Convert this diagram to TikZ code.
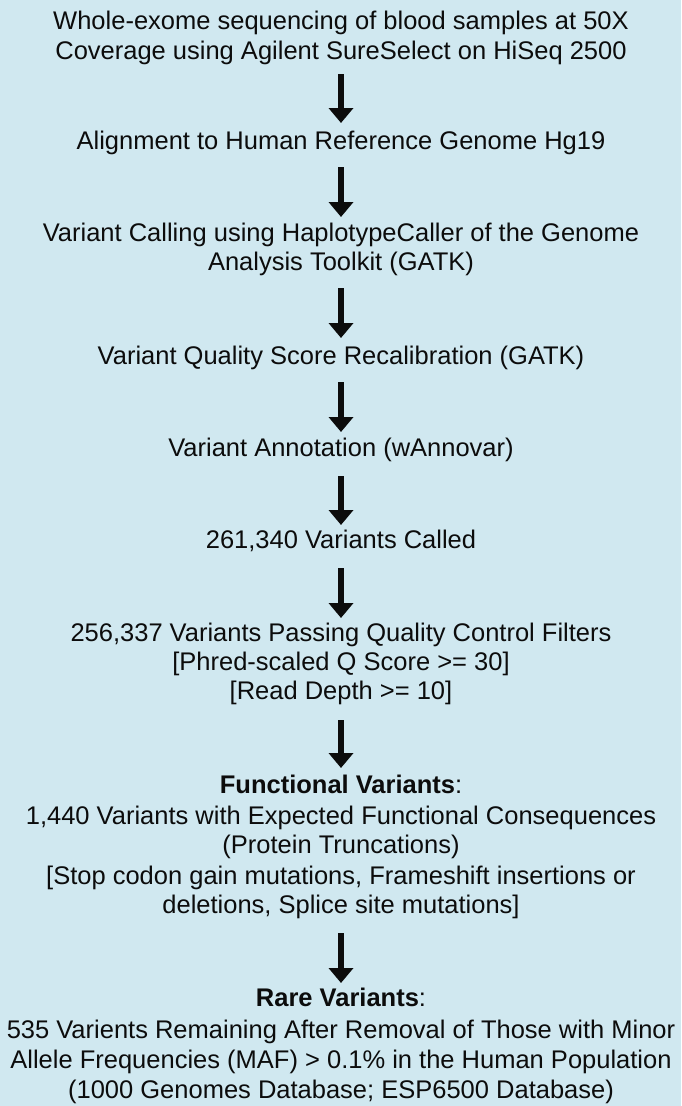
\documentclass[tikz,border=0pt]{standalone}
\usepackage{fontspec}
\setmainfont{Liberation Sans}
\usetikzlibrary{arrows.meta}
\definecolor{bgblue}{RGB}{208,232,240}
\definecolor{inkc}{RGB}{12,12,12}
\begin{document}
\begin{tikzpicture}[x=1pt,y=-1pt,
  txt/.style={anchor=base,inner sep=0pt,font=\fontsize{25.5}{30}\selectfont,text=inkc},
  arr/.style={draw=inkc,line width=5.5pt,-{Triangle[width=24pt,length=15pt]}}]
\useasboundingbox (0,0) rectangle (681,1106);
\fill[bgblue] (0,0) rectangle (681,1106);
% text lines
\node[txt] (t1a) at (341,29) {Whole-exome sequencing of blood samples at 50X};
\node[txt] (t1b) at (341,59) {Coverage using Agilent SureSelect on HiSeq 2500};
\node[txt] (t2) at (341,149) {Alignment to Human Reference Genome Hg19};
\node[txt] (t3a) at (341,241) {Variant Calling using HaplotypeCaller of the Genome};
\node[txt] (t3b) at (341,270) {Analysis Toolkit (GATK)};
\node[txt] (t4) at (341,364) {Variant Quality Score Recalibration (GATK)};
\node[txt] (t5) at (341,456) {Variant Annotation (wAnnovar)};
\node[txt] (t6) at (341,548) {261,340 Variants Called};
\node[txt] (t7a) at (341,641) {256,337 Variants Passing Quality Control Filters};
\node[txt] (t7b) at (341,670) {[Phred-scaled Q Score >= 30]};
\node[txt] (t7c) at (341,699) {[Read Depth >= 10]};
\node[txt] (t8a) at (341,793) {\textbf{Functional Variants}:};
\node[txt] (t8b) at (341,824) {1,440 Variants with Expected Functional Consequences};
\node[txt] (t8c) at (341,853) {(Protein Truncations)};
\node[txt] (t8d) at (341,884) {[Stop codon gain mutations, Frameshift insertions or};
\node[txt] (t8e) at (341,913) {deletions, Splice site mutations]};
\node[txt] (t9a) at (341,1006) {\textbf{Rare Variants}:};
\node[txt] (t9b) at (341,1038) {535 Varients Remaining After Removal of Those with Minor};
\node[txt] (t9c) at (341,1068) {Allele Frequencies (MAF) > 0.1\% in the Human Population};
\node[txt] (t9d) at (341,1098) {(1000 Genomes Database; ESP6500 Database)};
% arrow end points
\coordinate (a1s) at (341,74);  \coordinate (a1e) at (341,123);
\coordinate (a2s) at (341,167); \coordinate (a2e) at (341,217);
\coordinate (a3s) at (341,288); \coordinate (a3e) at (341,338);
\coordinate (a4s) at (341,382); \coordinate (a4e) at (341,432);
\coordinate (a5s) at (341,476); \coordinate (a5e) at (341,525);
\coordinate (a6s) at (341,568); \coordinate (a6e) at (341,618);
\coordinate (a7s) at (341,720); \coordinate (a7e) at (341,768);
\coordinate (a8s) at (341,933); \coordinate (a8e) at (341,983);
\draw[arr] (a1s) -- (a1e);
\draw[arr] (a2s) -- (a2e);
\draw[arr] (a3s) -- (a3e);
\draw[arr] (a4s) -- (a4e);
\draw[arr] (a5s) -- (a5e);
\draw[arr] (a6s) -- (a6e);
\draw[arr] (a7s) -- (a7e);
\draw[arr] (a8s) -- (a8e);
\end{tikzpicture}
\end{document}
